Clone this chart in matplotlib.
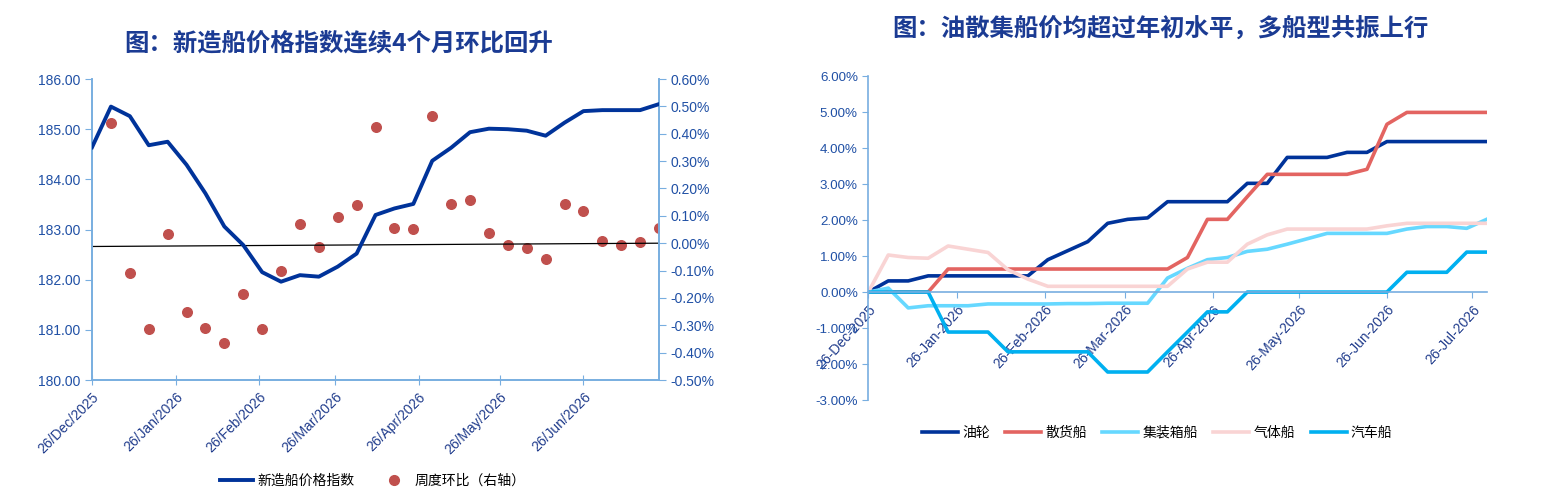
import datetime
import matplotlib
matplotlib.use('Agg')
import matplotlib.pyplot as plt
import matplotlib.dates as mdates
from matplotlib.lines import Line2D
from matplotlib.ticker import FuncFormatter, MultipleLocator

plt.rcParams['font.family'] = ['Liberation Sans', 'Noto Sans CJK SC', 'DejaVu Sans']
plt.rcParams['axes.unicode_minus'] = False

# ---- left chart data: weekly new-build price index ----
left_start = datetime.date(2025, 12, 26)
index_values = [184.64, 185.45, 185.26, 184.68, 184.75, 184.29, 183.72, 183.06, 182.69, 182.15,
                181.96, 182.09, 182.06, 182.26, 182.52, 183.29, 183.42, 183.51, 184.37, 184.63,
                184.94, 185.01, 185.00, 184.97, 184.87, 185.13, 185.36, 185.38, 185.38, 185.38,
                185.50]
# weekly change in %, starting from the second week
weekly_change = [0.44, -0.11, -0.315, 0.035, -0.25, -0.31, -0.366, -0.187, -0.314, -0.10,
                 0.069, -0.013, 0.096, 0.141, 0.424, 0.057, 0.051, 0.465, 0.142, 0.159,
                 0.039, -0.008, -0.019, -0.058, 0.142, 0.117, 0.007, -0.008, 0.003, 0.057]
baseline_pct = [-0.012, 0.0]

# ---- right chart data: cumulative change by ship type, % ----
right_start = datetime.date(2025, 12, 26)
tanker = [0, 0.31, 0.31, 0.45, 0.45, 0.45, 0.45, 0.45, 0.45, 0.90, 1.15, 1.40, 1.91, 2.02, 2.06, 2.51,
          2.51, 2.51, 2.51, 3.02, 3.02, 3.74, 3.74, 3.74, 3.88, 3.88, 4.18, 4.18, 4.18, 4.18, 4.18, 4.18]
bulk = [0, 0, 0, 0, 0.64, 0.64, 0.64, 0.64, 0.64, 0.64, 0.64, 0.64, 0.64, 0.64, 0.64, 0.64,
        0.96, 2.02, 2.02, 2.65, 3.27, 3.27, 3.27, 3.27, 3.27, 3.41, 4.66, 4.99, 4.99, 4.99, 4.99, 4.99]
container = [0, 0.11, -0.44, -0.38, -0.38, -0.38, -0.33, -0.33, -0.33, -0.33, -0.32, -0.32, -0.31, -0.31,
             -0.31, 0.39, 0.66, 0.90, 0.96, 1.13, 1.19, 1.33, 1.48, 1.63, 1.63, 1.63, 1.63, 1.75, 1.82,
             1.82, 1.77, 2.02]
gas = [0, 1.03, 0.96, 0.94, 1.28, 1.19, 1.10, 0.62, 0.36, 0.16, 0.16, 0.16, 0.16, 0.16, 0.16, 0.16,
       0.64, 0.83, 0.83, 1.33, 1.59, 1.75, 1.75, 1.75, 1.75, 1.75, 1.84, 1.91, 1.91, 1.91, 1.91, 1.91]
car = [0, 0, 0, 0, -1.11, -1.11, -1.11, -1.66, -1.66, -1.66, -1.66, -1.66, -2.22, -2.22, -2.22, -1.66,
       -1.11, -0.55, -0.55, 0, 0, 0, 0, 0, 0, 0, 0, 0.55, 0.55, 0.55, 1.11, 1.11]
series_names = ['油轮', '散货船', '集装箱船', '气体船', '汽车船']
series_colors = ['#00339A', '#E36461', '#66D8FF', '#F9D4D4', '#00B0F0']

left_title = '图：新造船价格指数连续4个月环比回升'
right_title = '图：油散集船价均超过年初水平，多船型共振上行'

title_color = '#1B3B93'
tick_color = '#2050A5'
date_color = '#203C8C'
spine_color = '#78AEE0'

left_dates = [left_start + datetime.timedelta(days=7 * i) for i in range(len(index_values))]
right_dates = [right_start + datetime.timedelta(days=7 * i) for i in range(len(tanker))]

fig = plt.figure(figsize=(15.47, 4.97), dpi=100)

# ================= left chart =================
ax = fig.add_axes([0.0595, 0.2354, 0.3665, 0.6056])
ax2 = ax.twinx()
ax.plot(left_dates, index_values, color='#00339A', lw=2.8, zorder=3)
ax.set_zorder(ax2.get_zorder() + 1)
ax.patch.set_visible(False)
ax2.scatter(left_dates[1:], weekly_change, s=48, color='#C0504D', zorder=2)
ax2.plot([left_dates[0], left_dates[-1]], baseline_pct, color='black', lw=0.9)

ax.set_ylim(180, 186)
ax.yaxis.set_major_locator(MultipleLocator(1))
ax.yaxis.set_major_formatter(FuncFormatter(lambda v, p: f'{v:.2f}'))
ax2.set_ylim(-0.5, 0.6)
ax2.yaxis.set_major_locator(MultipleLocator(0.1))
ax2.yaxis.set_major_formatter(FuncFormatter(lambda v, p: f'{v:.2f}%'))
ax.set_xlim(left_dates[0], left_dates[-1])
ax.xaxis.set_major_locator(mdates.MonthLocator(bymonthday=26))
ax.xaxis.set_major_formatter(mdates.DateFormatter('%d/%b/%Y'))

for a in (ax, ax2):
    a.spines['top'].set_visible(False)
    for side in ('left', 'right', 'bottom'):
        a.spines[side].set_color(spine_color)
        a.spines[side].set_linewidth(1.2)
ax.tick_params(axis='y', colors=spine_color, labelcolor=tick_color, labelsize=10, length=5, direction='out')
ax2.tick_params(axis='y', colors=spine_color, labelcolor=tick_color, labelsize=10, length=5, direction='out')
ax.tick_params(axis='x', colors=spine_color, labelcolor=date_color, labelsize=10, length=7, direction='inout')
for lbl in ax.get_xticklabels():
    lbl.set_rotation(45)
    lbl.set_ha('right')
    lbl.set_va('top')
    lbl.set_rotation_mode('anchor')

fig.text(0.219, 0.913, left_title, ha='center', va='center', fontsize=17.6, fontweight='bold',
         color=title_color, family=['Noto Sans CJK SC', 'DejaVu Sans'])

left_handles = [Line2D([], [], color='#00339A', lw=2.8),
                Line2D([], [], color='#C0504D', marker='o', ls='none', markersize=7)]
fig.legend(left_handles, ['新造船价格指数', '周度环比（右轴）'], loc='center', bbox_to_anchor=(0.241, 0.032),
           ncol=2, frameon=False, fontsize=10, handlelength=2.4, columnspacing=1.6, handletextpad=0.3)

# ================= right chart =================
bx = fig.add_axes([0.5613, 0.195, 0.3997, 0.652])
for vals, name, col in zip([tanker, bulk, container, gas, car], series_names, series_colors):
    bx.plot(right_dates, vals, color=col, lw=2.6, label=name)

bx.set_ylim(-3, 6)
bx.yaxis.set_major_locator(MultipleLocator(1))
bx.yaxis.set_major_formatter(FuncFormatter(lambda v, p: f'{v:.2f}%'))
bx.set_xlim(right_dates[0], right_dates[-1])
bx.xaxis.set_major_locator(mdates.MonthLocator(bymonthday=26))
bx.xaxis.set_major_formatter(mdates.DateFormatter('%d-%b-%Y'))
bx.spines['top'].set_visible(False)
bx.spines['right'].set_visible(False)
bx.spines['bottom'].set_position(('data', 0))
for side in ('left', 'bottom'):
    bx.spines[side].set_color(spine_color)
    bx.spines[side].set_linewidth(1.2)
bx.tick_params(axis='y', colors=spine_color, labelcolor=tick_color, labelsize=9.6, length=4, direction='out')
bx.tick_params(axis='x', colors=spine_color, labelcolor=date_color, labelsize=10, length=4, direction='out')
for lbl in bx.get_xticklabels():
    lbl.set_rotation(48)
    lbl.set_ha('right')
    lbl.set_va('top')
    lbl.set_rotation_mode('anchor')

fig.text(0.75, 0.942, right_title, ha='center', va='center', fontsize=17.6, fontweight='bold',
         color=title_color, family=['Noto Sans CJK SC', 'DejaVu Sans'])

fig.legend(*bx.get_legend_handles_labels(), loc='center', bbox_to_anchor=(0.748, 0.129),
           ncol=5, frameon=False, fontsize=10, handlelength=2.6, columnspacing=1.1, handletextpad=0.3)

fig.savefig('out.png', dpi=100, facecolor='white')
